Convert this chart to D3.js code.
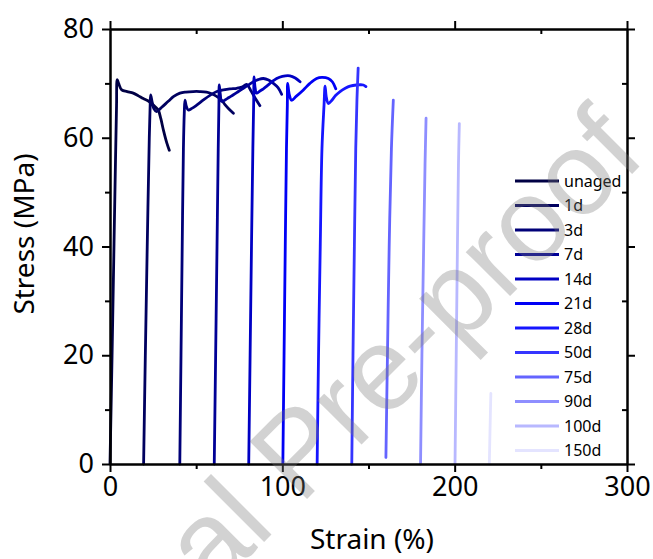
<!DOCTYPE html>
<html>
<head>
<meta charset="utf-8">
<script src="https://cdn.jsdelivr.net/npm/d3@7"></script>
<style>
  body { margin: 0; background: #fff; }
  svg { display: block; }
  text { font-family: "Noto Sans", "Open Sans", sans-serif; fill: #000; }
</style>
</head>
<body>
<svg id="chart" width="653" height="559"></svg>
<script>
// series labels and colours (aging time)
const seriesNames = ["unaged", "1d", "3d", "7d", "14d", "21d", "28d", "50d", "75d", "90d", "100d", "150d"];
const seriesColors = ["#000044", "#00005f", "#000078", "#000096", "#0000c4", "#0000f5", "#1616ff", "#3535ff", "#6464ff", "#8e8eff", "#b8b8ff", "#e4e4ff"];

// [strain %, stress MPa]; each curve is shifted by its own start strain
const unaged = [[0,0],[1.2,20],[2.3,40],[3.2,56],[3.8,66],[4.2,70.7],[5,70],[6.8,68.8],[10,68.5],[13.5,68.2],[16.5,67.7],[19.3,67.2],[22,66.8],[24.2,66.3],[26.5,65.6],[28,65.1],[29.5,63.5],[31,61.4],[33,59],[34.4,57.7]];
const d1 = [[19.5,0],[20.5,20],[21.6,40],[22.8,60],[23.3,66],[23.6,67.9],[24.5,66.5],[25.5,65.3],[27,64.8],[30,65.6],[33.8,66.7],[37,67.6],[40.6,68.2],[44,68.4],[48.3,68.5],[52,68.5],[56,68.4],[59,68.1],[61.9,67.6],[64.5,67],[66.7,66.1],[69,65.3],[71.6,64.5]];
const d3d = [[40.5,0],[41.2,20],[41.9,40],[42.6,58],[43.1,64.5],[43.5,66.9],[44.3,65.8],[45.4,65.1],[47.5,65.4],[50.3,66],[54,66.9],[58,67.8],[62,68.5],[65.8,68.8],[69.5,69],[73.5,69.1],[76.5,69.3],[79.3,69.8],[81.5,68.8],[84,67.4],[87,65.9]];
const d7 = [[60.5,0],[61.3,20],[62.1,40],[62.8,58],[63.2,66],[63.4,69.7],[64,68],[64.8,66.7],[67,67],[69,67.4],[71.6,67.9],[74.5,68.5],[77.4,69.1],[80.3,69.7],[83.2,70.3],[86,70.7],[89,70.9],[92,70.6],[94.8,70],[97.5,69.2],[99.6,68]];
const d14 = [[80.5,0],[81.3,20],[82.1,40],[82.9,58],[83.4,67],[83.6,71.2],[84.2,69.2],[85,68.2],[87,68.6],[89,69],[91,69.5],[94,70.3],[96.7,70.9],[100,71.3],[104.4,71.4],[107.5,71],[110.3,70.3]];
const d21 = [[100.3,0],[101,20],[101.7,40],[102.4,58],[102.9,66],[103.1,70],[104,68],[105.4,66.9],[108,67.6],[112.2,68.8],[116,70],[119.9,70.9],[123,71.1],[126.7,70.9],[129,70.3],[131,69]];
const d28 = [[120.2,0],[121,20],[122,40],[123,58],[124.2,66],[124.8,69.5],[125.5,67.5],[126.7,66.3],[128.5,66.8],[131,67.8],[133.5,68.5],[136.5,69.1],[139.3,69.5],[143,69.7],[147,69.7],[148.5,69.4]];
const d50 = [[140.3,0],[141,20],[141.8,40],[142.6,58],[143.3,67],[144,72.8]];
const d75 = [[160.1,1.2],[161,20],[162,40],[163.3,58],[164.4,66.9]];
const d90 = [[180.2,0],[181,20],[182,40],[182.8,55],[183.4,63.6]];
const d100 = [[200.2,0],[200.9,20],[201.6,40],[202.2,55],[202.7,62.6]];
const d150 = [[220.1,0],[220.5,6],[221,13]];
const seriesData = [unaged, d1, d3d, d7, d14, d21, d28, d50, d75, d90, d100, d150];

const strainTicks = [0, 100, 200, 300];
const strainMinor = [50, 150, 250];
const stressTicks = [0, 20, 40, 60, 80];
const stressMinor = [10, 30, 50, 70];

const svg = d3.select("#chart");
const plotLeft = 110, plotRight = 627, plotTop = 29, plotBottom = 464;

const x = d3.scaleLinear().domain([0, 300]).range([plotLeft, plotRight]);
const y = d3.scaleLinear().domain([0, 80]).range([plotBottom, plotTop]);

// curves
const line = d3.line()
  .x(d => x(d[0]))
  .y(d => y(d[1]))
  .curve(d3.curveCatmullRom.alpha(0.5));

svg.append("g").selectAll("path")
  .data(seriesData)
  .join("path")
  .attr("d", line)
  .attr("fill", "none")
  .attr("stroke", (d, i) => seriesColors[i])
  .attr("stroke-width", 2.8)
  .attr("stroke-linejoin", "round")
  .attr("stroke-linecap", "round");

// axes: bottom/left ticks outward, top/right majors outward and minors inward
function styleAxis(g) {
  g.select(".domain").attr("stroke", "#000").attr("stroke-width", 2);
  g.selectAll(".tick line").attr("stroke", "#000").attr("stroke-width", 2);
  g.selectAll("text").style("font-size", "27px").attr("fill", "#000");
}

svg.append("g")
  .attr("transform", `translate(0,${plotBottom})`)
  .call(d3.axisBottom(x).tickValues(strainTicks).tickSize(8).tickPadding(5).tickSizeOuter(0))
  .call(styleAxis);
svg.append("g")
  .attr("transform", `translate(0,${plotBottom})`)
  .call(d3.axisBottom(x).tickValues(strainMinor).tickSize(5).tickFormat("").tickSizeOuter(0))
  .call(styleAxis);

svg.append("g")
  .attr("transform", `translate(${plotLeft},0)`)
  .call(d3.axisLeft(y).tickValues(stressTicks).tickSize(8).tickPadding(8).tickSizeOuter(0))
  .call(styleAxis);
svg.append("g")
  .attr("transform", `translate(${plotLeft},0)`)
  .call(d3.axisLeft(y).tickValues(stressMinor).tickSize(5).tickFormat("").tickSizeOuter(0))
  .call(styleAxis);

svg.append("g")
  .attr("transform", `translate(0,${plotTop})`)
  .call(d3.axisTop(x).tickValues(strainTicks).tickSize(8).tickFormat("").tickSizeOuter(0))
  .call(styleAxis);
svg.append("g")
  .attr("transform", `translate(0,${plotTop})`)
  .call(d3.axisTop(x).tickValues(strainMinor).tickSize(-5).tickFormat("").tickSizeOuter(0))
  .call(styleAxis);

svg.append("g")
  .attr("transform", `translate(${plotRight},0)`)
  .call(d3.axisRight(y).tickValues(stressTicks).tickSize(8).tickFormat("").tickSizeOuter(0))
  .call(styleAxis);
svg.append("g")
  .attr("transform", `translate(${plotRight},0)`)
  .call(d3.axisRight(y).tickValues(stressMinor).tickSize(-5).tickFormat("").tickSizeOuter(0))
  .call(styleAxis);

// axis titles
svg.append("text")
  .attr("x", 372)
  .attr("y", 549)
  .attr("text-anchor", "middle")
  .style("font-size", "28px")
  .text("Strain (%)");

svg.append("text")
  .attr("transform", `translate(34,234) rotate(-90)`)
  .attr("text-anchor", "middle")
  .style("font-size", "28px")
  .text("Stress (MPa)");

// legend
const legend = svg.append("g").attr("transform", "translate(515,181)");
const item = legend.selectAll("g")
  .data(seriesNames)
  .join("g")
  .attr("transform", (d, i) => `translate(0,${i * 24.5})`);
item.append("line")
  .attr("x1", 0).attr("x2", 44)
  .attr("stroke", (d, i) => seriesColors[i])
  .attr("stroke-width", 3);
item.append("text")
  .attr("x", 49)
  .attr("dy", "0.35em")
  .style("font-size", "16px")
  .text(d => d);

// watermark
svg.append("text")
  .attr("transform", "translate(648,158) rotate(-45)")
  .attr("text-anchor", "end")
  .style("font-family", "'Liberation Sans', Arial, sans-serif")
  .style("font-size", "118px")
  .style("fill", "#7a7a7a")
  .style("opacity", 0.33)
  .text("Journal Pre-proof");
</script>
</body>
</html>
